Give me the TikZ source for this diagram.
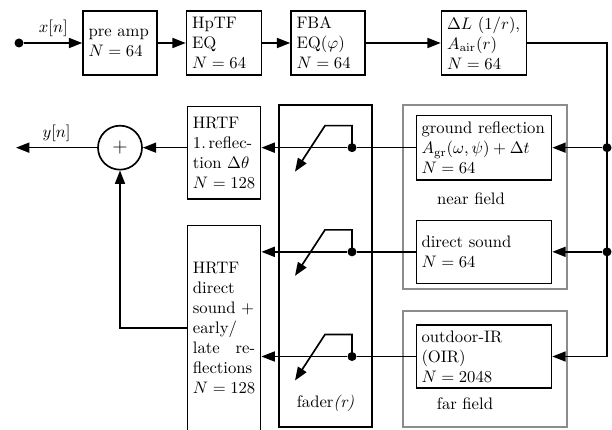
\documentclass[tikz,border=0pt]{standalone}
\usepackage{amsmath,amssymb}
\usepackage{tikz}
\usetikzlibrary{
    arrows.meta,
    positioning,
    calc,
}
\usepackage{xcolor}
\definecolor{fieldgray}{HTML}{8C8C8C}

\begin{document}
\begin{tikzpicture}[
    x=0.6pt, y=-0.6pt,
    line width=1pt,
    >={Triangle[length=8pt,width=6pt]},
    blk/.style     = {draw, align=left, inner sep=3.3pt,
                      minimum height=38.4pt,
                      execute at begin node={\relpenalty=10000 \binoppenalty=10000}},
    sumnode/.style = {circle, draw, minimum size=26.4pt,
                      inner sep=0pt, font=\large},
    dot/.style     = {circle, fill, inner sep=0pt, minimum size=5.4pt},
    fieldbox/.style = {draw=fieldgray},
    faderbox/.style = {draw},
]
\useasboundingbox (0,0) rectangle (612,429);

%% ── Frames ───────────────────────────────────────────────────────────────────
\node[faderbox, minimum width=55.8pt, minimum height=193.2pt]
      (fader) at (325.5,266) {};
\node[fieldbox, minimum width=98.4pt, minimum height=110.4pt]
      (near) at (485,197) {};
\node[fieldbox, minimum width=98.4pt, minimum height=69.6pt]
      (far) at (485,369) {};

%% ── Nodes ────────────────────────────────────────────────────────────────────
\node[blk, text width=37.7pt] (pre) at (120,43) {pre amp\\$N=64$};
\node[blk, text width=38.3pt, right=16.8pt of pre] (hptf) {HpTF\\EQ\\$N=64$};
\node[blk, text width=37.7pt, right=16.8pt of hptf] (fba) {FBA\\EQ$(\varphi)$\\$N=64$};
\node[blk, text width=44.3pt, right=45pt of fba] (dl)
      {$\Delta L$ $(1/r)$,\\$A_{\mathrm{air}}(r)$\\$N=64$};

\node[blk, text width=75pt, inner sep=3pt, below=23.4pt of dl] (ground)
      {ground reflection\\$A_{\mathrm{gr}}(\omega,\psi)+\Delta t$\\$N=64$};
\node[blk, text width=75pt, inner sep=3pt, minimum height=37.8pt,
      below=23.4pt of ground] (direct) {direct sound\\$N=64$};
\node[blk, text width=75pt, inner sep=3pt, minimum height=37.8pt,
      below=24pt of direct] (outdoor) {outdoor-IR\\(OIR)\\$N=2048$};

\node[blk, text width=37.3pt, minimum height=55.2pt, below=18pt of hptf] (hrtfa)
      {HRTF\\1.\,reflec-\\tion $\Delta\theta$\\$N=128$};
\node[blk, text width=37.3pt, minimum height=123pt, below=15pt of hrtfa] (hrtfb)
      {HRTF\\direct\\sound $+$\\early/\\late\hfill re-\\flections\\$N=128$};

\node[sumnode] (sum) at (pre |- ground) {$+$};

\node (nearlbl) at (471,199) {near field};
\node (farlbl) at (465,404) {far field};
\node (faderlbl) at (325.5,403) {fader\textit{(r)}};

%% ── Dots ─────────────────────────────────────────────────────────────────────
\coordinate (rail) at (607,43);
\coordinate (fd) at (352,0);
\coordinate (outp) at (16,0);
\node[dot] (in) at (19,43) {};
\node[dot] (j1) at (rail |- ground) {};
\node[dot] (j2) at (rail |- direct) {};
\node[dot] (f1) at (fd |- ground) {};
\node[dot] (f2) at (fd |- direct) {};
\node[dot] (f3) at (fd |- outdoor) {};

%% ── Connectors ───────────────────────────────────────────────────────────────
\draw[->] (in) -- node[above] {$x[n]$} (pre);
\draw[->] (pre) -- (hptf);
\draw[->] (hptf) -- (fba);
\draw[->] (fba) -- (dl);
\draw[->] (dl.east) -- (rail) -- (rail |- outdoor) -- (outdoor.east);
\draw[->] (j1) -- (ground.east);
\draw[->] (j2) -- (direct.east);

\draw (ground.west) -- (f1);
\draw (direct.west) -- (f2);
\draw (outdoor.west) -- (f3);
\draw[->] (f1) -- (f1 -| hrtfa.east);
\draw[->] (f2) -- (f2 -| hrtfb.east);
\draw[->] (f3) -- (f3 -| hrtfb.east);

\foreach \d in {f1,f2,f3}
  \draw[->] (\d.center) -- ++(0,-22) -- ++(-27,0) -- ++(-30,46);

\draw[->] (sum -| hrtfa.west) -- (sum);
\draw[->] (sum) -- node[above] {$y[n]$} (outp |- sum);
\draw[->] (hrtfb.west) -| (sum);

\end{tikzpicture}
\end{document}
